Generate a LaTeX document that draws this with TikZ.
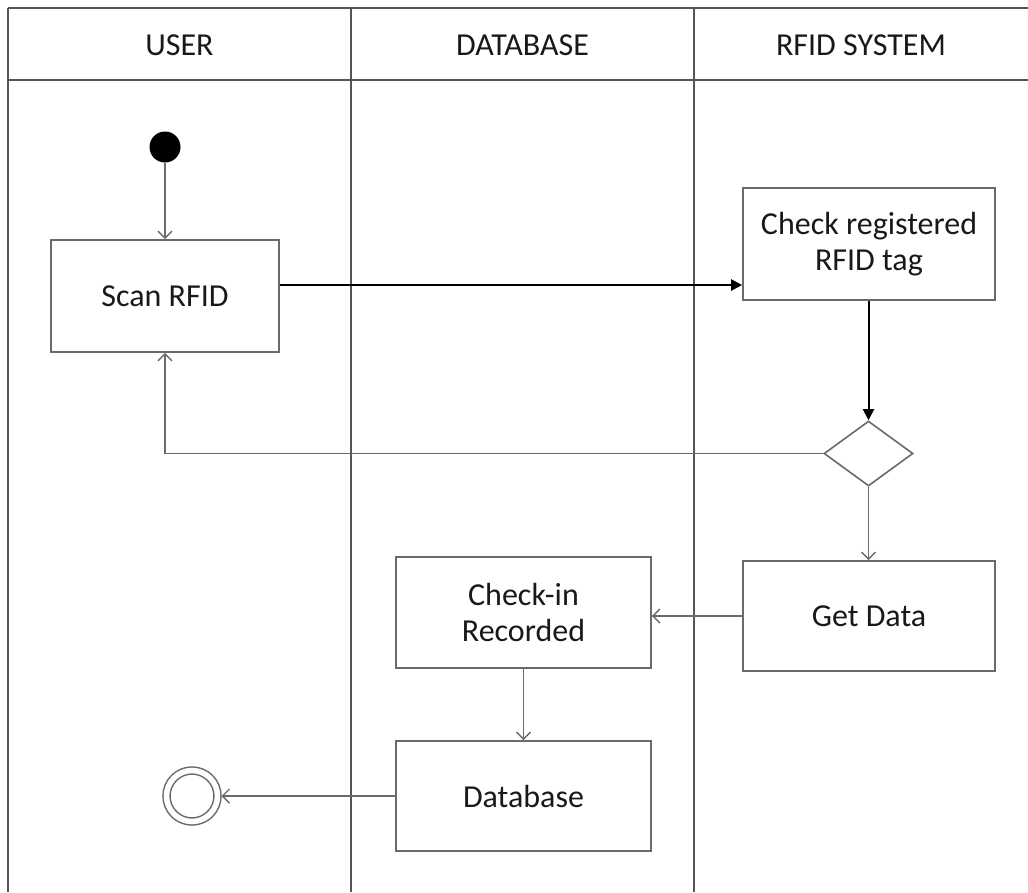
\documentclass[tikz,border=0pt]{standalone}
\usepackage{fontspec}
\setmainfont{Carlito}
\usetikzlibrary{arrows.meta,shapes.geometric}
\definecolor{lanegray}{HTML}{555555}
\definecolor{boxgray}{HTML}{6A6A6A}
\definecolor{flowgray}{HTML}{6A6A6A}
\begin{document}
\begin{tikzpicture}[x=1pt,y=-1pt,
  lane/.style={draw=lanegray,line width=2.2pt},
  act/.style={draw=boxgray,line width=1.6pt,rectangle,align=center,inner sep=0pt,
    font=\fontsize{32}{36}\selectfont,text=black!90},
  head/.style={font=\fontsize{32}{36}\selectfont,text=black!90},
  flow/.style={draw=flowgray,line width=1.4pt,-{Straight Barb[length=7pt,width=14pt,line width=1.4pt]}},
  bflow/.style={draw=black,line width=2pt,-{Triangle[length=11pt,width=11pt]}},
]
\useasboundingbox (0,0) rectangle (1028,892);
\fill[white] (0,0) rectangle (1028,892);
% swimlanes
\draw[lane] (8,8) -- (1028,8);
\draw[lane] (8,80) -- (1028,80);
\draw[lane] (8,8) -- (8,892);
\draw[lane] (351,8) -- (351,892);
\draw[lane] (694,8) -- (694,892);
\node[head] (hUser) at (179.5,45) {USER};
\node[head] (hDb) at (522.5,45) {DATABASE};
\node[head] (hRfid) at (861,45) {RFID SYSTEM};
% nodes
\node[circle,fill=black,minimum size=31pt,inner sep=0pt] (start) at (165,147) {};
\node[act,minimum width=228pt,minimum height=112pt] (scan) at (165,296) {Scan RFID};
\node[act,minimum width=252pt,minimum height=112pt] (check) at (869,244) {Check registered\\RFID tag};
\node[diamond,draw=boxgray,line width=1.6pt,minimum width=89pt,minimum height=65pt,inner sep=0pt] (dec) at (868.5,453.5) {};
\node[act,minimum width=252pt,minimum height=110pt] (get) at (869,616) {Get Data};
\node[act,minimum width=255pt,minimum height=111pt] (rec) at (523.5,612.5) {Check-in\\Recorded};
\node[act,minimum width=255pt,minimum height=110pt] (db) at (523.5,796) {Database};
\node[circle,draw=boxgray,line width=1.5pt,double,double distance=5.5pt,minimum size=51pt,inner sep=0pt,outer sep=4pt] (end) at (192,796) {};
% connectors
\draw[flow] (start) -- (scan);
\draw[bflow] (scan.east |- 0,285) coordinate (s1) -- (check.west |- s1);
\draw[bflow] (check.south -| dec.north) -- (dec.north);
\draw[flow] (dec.west) -| (scan.south);
\draw[flow] (dec.south) -- (get.north -| dec.south);
\draw[flow] (get.west) -- (rec.east |- get.west);
\draw[flow] (rec.south) -- (db.north);
\draw[flow] (db.west) -- (end.east);
\end{tikzpicture}
\end{document}
